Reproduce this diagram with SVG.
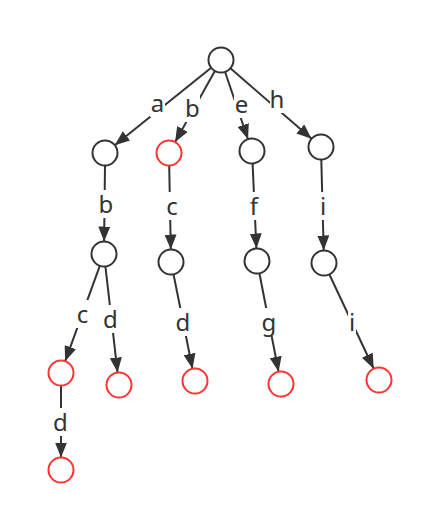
<svg xmlns="http://www.w3.org/2000/svg" width="423" height="515" viewBox="0 0 423 515">
<style>
.n{fill:#fff;stroke:#333;stroke-width:2}
.r{fill:#fff;stroke:#f33;stroke-width:2}
.e{stroke:#333;stroke-width:2;fill:none;marker-end:url(#ah)}
.bg{fill:#fff}
.t{font-family:"Noto Sans","DejaVu Sans",sans-serif;font-size:24px;fill:#333;text-anchor:middle}
</style>
<defs>
<marker id="ah" markerUnits="userSpaceOnUse" markerWidth="16" markerHeight="12" refX="15" refY="6" orient="auto" viewBox="0 0 16 12">
<path d="M0,0 L15,6 L0,12 z" fill="#333"/>
</marker>
</defs>
<rect width="423" height="515" fill="#fff"/>
<g id="connectors">
<line class="e" x1="211.2" y1="67.8" x2="114.8" y2="145.2"/>
<line class="e" x1="214.9" y1="70.9" x2="175.1" y2="142.1"/>
<line class="e" x1="225.0" y1="71.8" x2="248.0" y2="139.2"/>
<line class="e" x1="230.4" y1="68.2" x2="311.6" y2="138.8"/>
<line class="e" x1="105" y1="165.5" x2="104.1" y2="241.5"/>
<line class="e" x1="169.2" y1="165.5" x2="170.8" y2="249.5"/>
<line class="e" x1="252.6" y1="163.5" x2="256.4" y2="248.5"/>
<line class="e" x1="321.3" y1="159.5" x2="323.7" y2="250.5"/>
<line class="e" x1="99.8" y1="265.8" x2="65.2" y2="361.2"/>
<line class="e" x1="105.4" y1="266.4" x2="117.6" y2="372.6"/>
<line class="e" x1="173.5" y1="274.3" x2="192.5" y2="368.7"/>
<line class="e" x1="259.4" y1="273.3" x2="278.6" y2="371.7"/>
<line class="e" x1="329.3" y1="274.3" x2="373.7" y2="368.7"/>
<line class="e" x1="61" y1="385.5" x2="61" y2="457.5"/>
<g id="labels">
<rect class="bg" x="150" y="89" width="15" height="28"/><text class="t" x="157.5" y="112">a</text>
<rect class="bg" x="185" y="94" width="15" height="28"/><text class="t" x="192.5" y="117">b</text>
<rect class="bg" x="234" y="90" width="15" height="28"/><text class="t" x="241.5" y="113">e</text>
<rect class="bg" x="270" y="85" width="15" height="28"/><text class="t" x="277" y="108">h</text>
<rect class="bg" x="98" y="190" width="15" height="28"/><text class="t" x="106" y="213">b</text>
<rect class="bg" x="165" y="192" width="14" height="28"/><text class="t" x="172" y="215">c</text>
<rect class="bg" x="249" y="192" width="10" height="28"/><text class="t" x="254" y="215">f</text>
<rect class="bg" x="319" y="192" width="8" height="28"/><text class="t" x="323" y="215">i</text>
<rect class="bg" x="75" y="300" width="15" height="28"/><text class="t" x="82.5" y="323">c</text>
<rect class="bg" x="103" y="305" width="15" height="28"/><text class="t" x="110.5" y="328">d</text>
<rect class="bg" x="175.5" y="308" width="15" height="28"/><text class="t" x="183" y="331">d</text>
<rect class="bg" x="261.5" y="308" width="15" height="28"/><text class="t" x="269" y="331">g</text>
<rect class="bg" x="348" y="308" width="8" height="28"/><text class="t" x="352" y="331">i</text>
<rect class="bg" x="53" y="408" width="15" height="28"/><text class="t" x="60.5" y="431">d</text>
</g>
</g>
<g id="root"><circle class="n" cx="221" cy="60" r="12.5"/></g>
<g id="n_a"><circle class="n" cx="105" cy="153" r="12.5"/></g>
<g id="n_b"><circle class="r" cx="169" cy="153" r="12.5"/></g>
<g id="n_e"><circle class="n" cx="252" cy="151" r="12.5"/></g>
<g id="n_h"><circle class="n" cx="321" cy="147" r="12.5"/></g>
<g id="n_ab"><circle class="n" cx="104" cy="254" r="12.5"/></g>
<g id="n_bc"><circle class="n" cx="171" cy="262" r="12.5"/></g>
<g id="n_ef"><circle class="n" cx="257" cy="261" r="12.5"/></g>
<g id="n_hi"><circle class="n" cx="324" cy="263" r="12.5"/></g>
<g id="n_abc"><circle class="r" cx="61" cy="373" r="12.5"/></g>
<g id="n_abd"><circle class="r" cx="119" cy="385" r="12.5"/></g>
<g id="n_bcd"><circle class="r" cx="195" cy="381" r="12.5"/></g>
<g id="n_efg"><circle class="r" cx="281" cy="384" r="12.5"/></g>
<g id="n_hii"><circle class="r" cx="379" cy="380" r="12.5"/></g>
<g id="n_abcd"><circle class="r" cx="61" cy="470" r="12.5"/></g>
</svg>
